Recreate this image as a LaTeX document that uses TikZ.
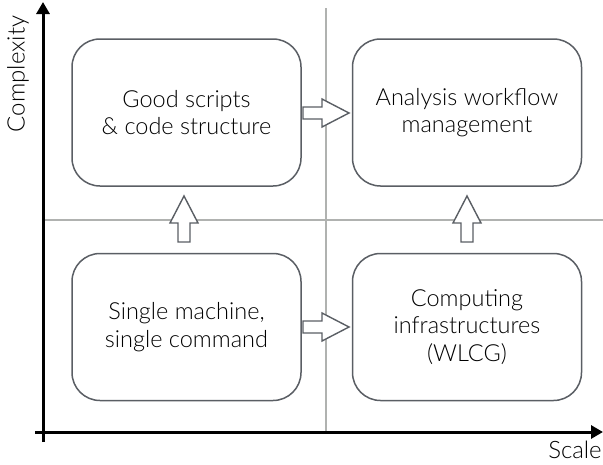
\documentclass[tikz,border=0pt]{standalone}
\usepackage{fontspec}
\setmainfont{Lato}[UprightFont=*-Light]
\usetikzlibrary{arrows.meta}
\definecolor{boxline}{HTML}{5A5E64}
\definecolor{gridline}{HTML}{B0B2B0}
\tikzset{
  quad/.style={draw=boxline, line width=1.5pt, rounded corners=28pt,
    minimum width=229pt, minimum height=147pt, align=center,
    font=\fontsize{23.5}{27.5}\selectfont, text=black},
  gridln/.style={draw=gridline, line width=2pt},
  axis/.style={draw=black, line width=3pt, -{Triangle[width=13pt,length=12pt]}},
  blockarrow/.style={draw=boxline, line width=1.4pt, fill=white, line join=miter},
  axlabel/.style={font=\fontsize{24}{27}\selectfont, text=black}
}
\newcommand{\blockarr}[3]{% x, y, rotation
  \draw[blockarrow, shift={(#1,#2)}, rotate=#3]
    (0pt,-6pt) -- (19pt,-6pt) -- (19pt,-14pt) -- (46pt,0pt) -- (19pt,14pt) -- (19pt,6pt) -- (0pt,6pt) -- cycle;}
\begin{document}
\begin{tikzpicture}[x=1pt,y=-1pt]
\useasboundingbox (0,0) rectangle (603,464);
% grid
\draw[gridln] (326,8) -- (326,432);
\draw[gridln] (43,220) -- (603,220);
% axes
\coordinate (yb) at (43,442);
\coordinate (yt) at (43,2);
\coordinate (xl) at (35,432);
\coordinate (xr) at (603,432);
\draw[axis] (yb) -- (yt);
\draw[axis] (xl) -- (xr);
\node[axlabel, rotate=90] (complexity) at (18,74) {Complexity};
\node[axlabel] (scale) at (575,450) {Scale};
% boxes
\node[quad] (tl) at (186.5,112.5) {Good scripts\\\& code structure};
\node[quad] (tr) at (467,112.5) {Analysis workflow\\management};
\node[quad] (bl) at (186.5,327) {Single machine,\\single command};
\node[quad] (br) at (467,327) {Computing\\infrastructures\\(WLCG)};
% block arrows
\blockarr{303}{113}{0}
\blockarr{303}{327}{0}
\blockarr{184}{242}{90}
\blockarr{467}{242}{90}
\end{tikzpicture}
\end{document}
